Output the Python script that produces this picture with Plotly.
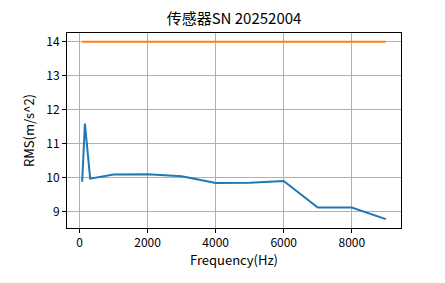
import plotly.graph_objects as go

freqs = [80, 160, 315, 1000, 2000, 3000, 4000, 5000, 6000, 7000, 8000, 9000]
rms = [9.89, 11.6, 9.98, 10.1, 10.11, 10.05, 9.85, 9.86, 9.91, 9.13, 9.13, 8.79]
limit_x = [80, 9000]
limit_y = [14, 14]

title = "传感器SN 20252004"
xlabel = "Frequency(Hz)"
ylabel = "RMS(m/s^2)"

font = "Noto Sans CJK SC, SimHei, sans-serif"

xmin, xmax = min(freqs + limit_x), max(freqs + limit_x)
ymin, ymax = min(rms + limit_y), max(rms + limit_y)
xm = 0.05 * (xmax - xmin)
ym = 0.05 * (ymax - ymin)

fig = go.Figure()
fig.add_trace(go.Scatter(x=freqs, y=rms, mode="lines", line=dict(color="#1f77b4", width=2), showlegend=False))
fig.add_trace(go.Scatter(x=limit_x, y=limit_y, mode="lines", line=dict(color="#ff7f0e", width=2), showlegend=False))

axis_common = dict(
    showline=True, linecolor="black", linewidth=1, mirror=True,
    ticks="outside", ticklen=4, tickcolor="black", tickwidth=1,
    showgrid=True, gridcolor="#b0b0b0", gridwidth=1, zeroline=False,
    tickfont=dict(family=font, size=12, color="black"),
)

fig.update_layout(
    width=445, height=283,
    margin=dict(l=67, r=44, t=33, b=55),
    paper_bgcolor="white", plot_bgcolor="white",
    title=dict(text=title, x=(67 + 401) / 2 / 445, xanchor="center", y=1 - 19 / 283, yanchor="middle",
               font=dict(family=font, size=15, color="black")),
    xaxis=dict(range=[xmin - xm, xmax + xm], tickvals=[0, 2000, 4000, 6000, 8000],
               title=dict(text=xlabel, font=dict(family=font, size=13, color="black"), standoff=5), **axis_common),
    yaxis=dict(range=[ymin - ym, ymax + ym], tickvals=[9, 10, 11, 12, 13, 14],
               title=dict(text=ylabel, font=dict(family=font, size=13, color="black"), standoff=8), **axis_common),
)

fig.write_html("out.html")
